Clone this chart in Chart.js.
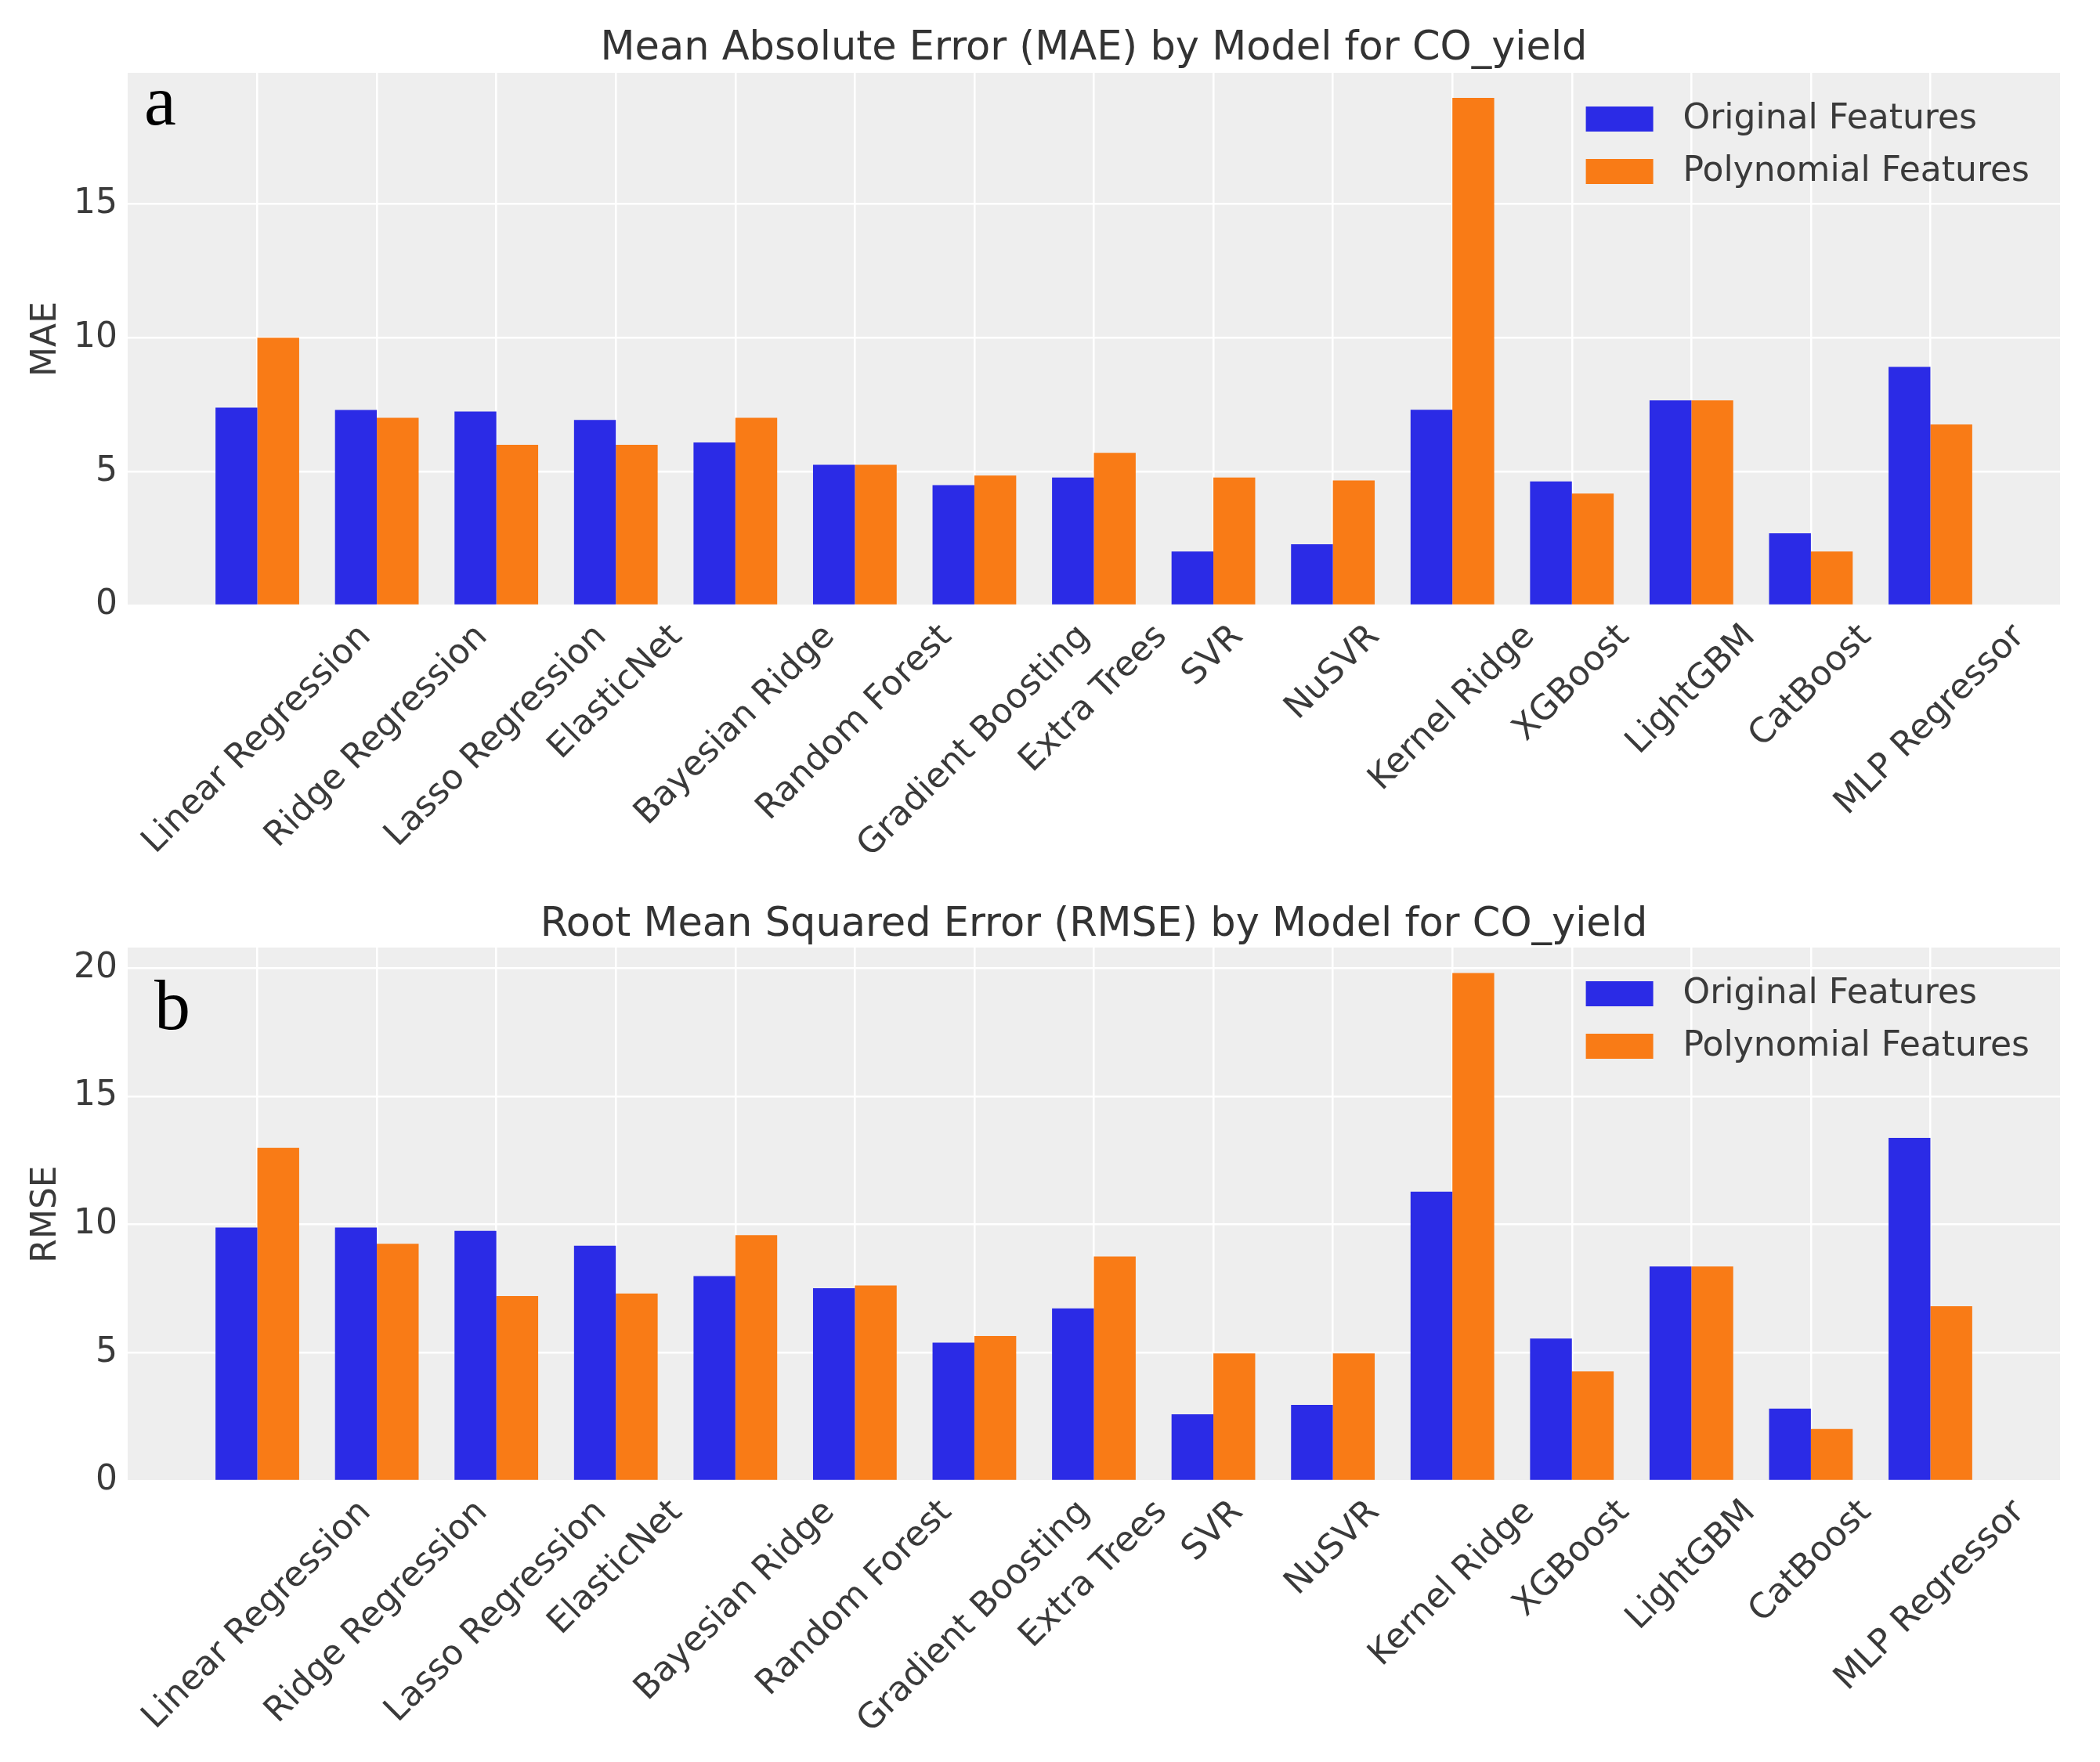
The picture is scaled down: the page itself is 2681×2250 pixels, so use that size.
<!DOCTYPE html>
<html lang="en">
<head>
<meta charset="UTF-8">
<title>MAE and RMSE by Model for CO_yield</title>
<script src="https://cdn.jsdelivr.net/npm/chart.js"></script>
<style>
  body { margin: 0; background: #fff; }
  #wrap { position: relative; width: 2681px; height: 2250px; }
  canvas { display: block; }
</style>
</head>
<body>
<div id="wrap">
  <canvas id="maeChart" width="2681" height="1125" style="width:2681px;height:1125px"></canvas>
  <canvas id="rmseChart" width="2681" height="1125" style="width:2681px;height:1125px"></canvas>
</div>
<script>
const models = ['Linear Regression', 'Ridge Regression', 'Lasso Regression', 'ElasticNet',
  'Bayesian Ridge', 'Random Forest', 'Gradient Boosting', 'Extra Trees', 'SVR', 'NuSVR',
  'Kernel Ridge', 'XGBoost', 'LightGBM', 'CatBoost', 'MLP Regressor'];
const seriesNames = ['Original Features', 'Polynomial Features'];

const maeOriginal   = [7.39, 7.30, 7.24, 6.93, 6.09, 5.25, 4.49, 4.78, 2.01, 2.28, 7.31, 4.63, 7.66, 2.69, 8.91];
const maePolynomial = [10.0, 7.01, 6.00, 6.00, 7.01, 5.25, 4.85, 5.70, 4.78, 4.67, 18.96, 4.18, 7.66, 2.01, 6.76];
const rmseOriginal   = [9.88, 9.88, 9.75, 9.17, 7.99, 7.51, 5.39, 6.73, 2.60, 2.96, 11.28, 5.55, 8.36, 2.82, 13.38];
const rmsePolynomial = [12.99, 9.25, 7.21, 7.31, 9.58, 7.62, 5.65, 8.75, 4.97, 4.97, 19.81, 4.27, 8.36, 2.02, 6.81];

const maeTicks = [0, 5, 10, 15];
const rmseTicks = [0, 5, 10, 15, 20];

const BLUE = '#2b2be6';
const ORANGE = '#f97b16';
const TEXT = '#3a3a3a';
const FONT = "'DejaVu Sans', sans-serif";
const FS = 44;
const TITLE_FS = 51;

Chart.defaults.font.family = FONT;
Chart.defaults.font.size = FS;
Chart.defaults.color = TEXT;

// plot background, rotated x labels, legend inside the axes, panel letter
const decor = {
  id: 'decor',
  beforeDraw(chart) {
    const a = chart.chartArea, ctx = chart.ctx;
    ctx.save();
    ctx.fillStyle = '#eeeeee';
    ctx.fillRect(a.left, a.top, a.right - a.left, a.bottom - a.top);
    ctx.restore();
  },
  afterDraw(chart, args, opts) {
    const a = chart.chartArea, ctx = chart.ctx;
    const xs = chart.scales.x;
    ctx.save();
    ctx.fillStyle = TEXT;
    ctx.font = FS + 'px ' + FONT;
    ctx.textAlign = 'center';
    ctx.textBaseline = 'middle';
    const h = FS * 1.17;
    chart.data.labels.forEach((lab, i) => {
      const w = ctx.measureText(lab).width;
      const side = (w + h) * Math.SQRT1_2;
      ctx.save();
      ctx.translate(xs.getPixelForValue(i), a.bottom + 15 + side / 2);
      ctx.rotate(-Math.PI / 4);
      ctx.fillText(lab, 0, 0);
      ctx.restore();
    });

    // legend
    const ds = chart.data.datasets;
    const maxW = Math.max(...ds.map(d => ctx.measureText(d.label).width));
    const tx = a.right - 39 - maxW;
    ctx.textAlign = 'left';
    ds.forEach((d, k) => {
      const cy = a.top + 59 + k * 67;
      ctx.fillStyle = d.backgroundColor;
      ctx.fillRect(tx - 38 - 86, cy - 16, 86, 32);
      ctx.fillStyle = TEXT;
      ctx.fillText(d.label, tx, cy + 1);
    });

    // panel letter
    ctx.fillStyle = '#000';
    ctx.font = "92px 'Liberation Serif', serif";
    ctx.textBaseline = 'alphabetic';
    ctx.fillText(opts.letter, a.left + opts.dx, a.top + opts.dy);
    ctx.restore();
  }
};

function makeChart(id, title, yTitle, original, polynomial, yMax, yTicks, titlePad, bottomSpace, letter) {
  return new Chart(document.getElementById(id), {
    type: 'bar',
    data: {
      labels: models,
      datasets: [
        { label: seriesNames[0], data: original.map((v, i) => ({ x: i, y: v })), backgroundColor: BLUE },
        { label: seriesNames[1], data: polynomial.map((v, i) => ({ x: i, y: v })), backgroundColor: ORANGE }
      ]
    },
    options: {
      responsive: false,
      animation: false,
      devicePixelRatio: 1,
      categoryPercentage: 0.7,
      barPercentage: 1.0,
      borderWidth: 0,
      layout: { padding: { left: 0, right: 51, top: 0, bottom: 0 } },
      scales: {
        x: {
          type: 'linear',
          min: -1.085,
          max: 15.085,
          offset: false,
          grid: { offset: false, color: '#ffffff', lineWidth: 2.5, drawTicks: false },
          border: { display: false },
          ticks: { display: false },
          afterBuildTicks: s => { s.ticks = models.map((m, i) => ({ value: i })); },
          afterFit: s => { s.height = bottomSpace; }
        },
        y: {
          min: 0,
          max: yMax,
          grid: { color: '#ffffff', lineWidth: 2.5, drawTicks: false },
          border: { display: false },
          ticks: { padding: 13, font: { size: FS } },
          afterBuildTicks: s => { s.ticks = yTicks.map(v => ({ value: v })); },
          afterFit: s => { s.width = 163; },
          title: { display: true, text: yTitle, font: { size: FS }, padding: { top: 33.6, bottom: 0 } }
        }
      },
      plugins: {
        legend: { display: false },
        tooltip: { enabled: false },
        title: {
          display: true,
          text: title,
          fullSize: false,
          color: '#333333',
          font: { size: TITLE_FS, weight: 'normal', lineHeight: 1.1 },
          padding: titlePad
        },
        decor: letter
      }
    },
    plugins: [decor]
  });
}

makeChart('maeChart', 'Mean Absolute Error (MAE) by Model for CO_yield', 'MAE',
  maeOriginal, maePolynomial, 19.9, maeTicks, { top: 35, bottom: 1.9 }, 352,
  { letter: 'a', dx: 21, dy: 66 });
makeChart('rmseChart', 'Root Mean Squared Error (RMSE) by Model for CO_yield', 'RMSE',
  rmseOriginal, rmsePolynomial, 20.8, rmseTicks, { top: 28.5, bottom: 0.4 }, 359,
  { letter: 'b', dx: 34, dy: 104 });
</script>
</body>
</html>
